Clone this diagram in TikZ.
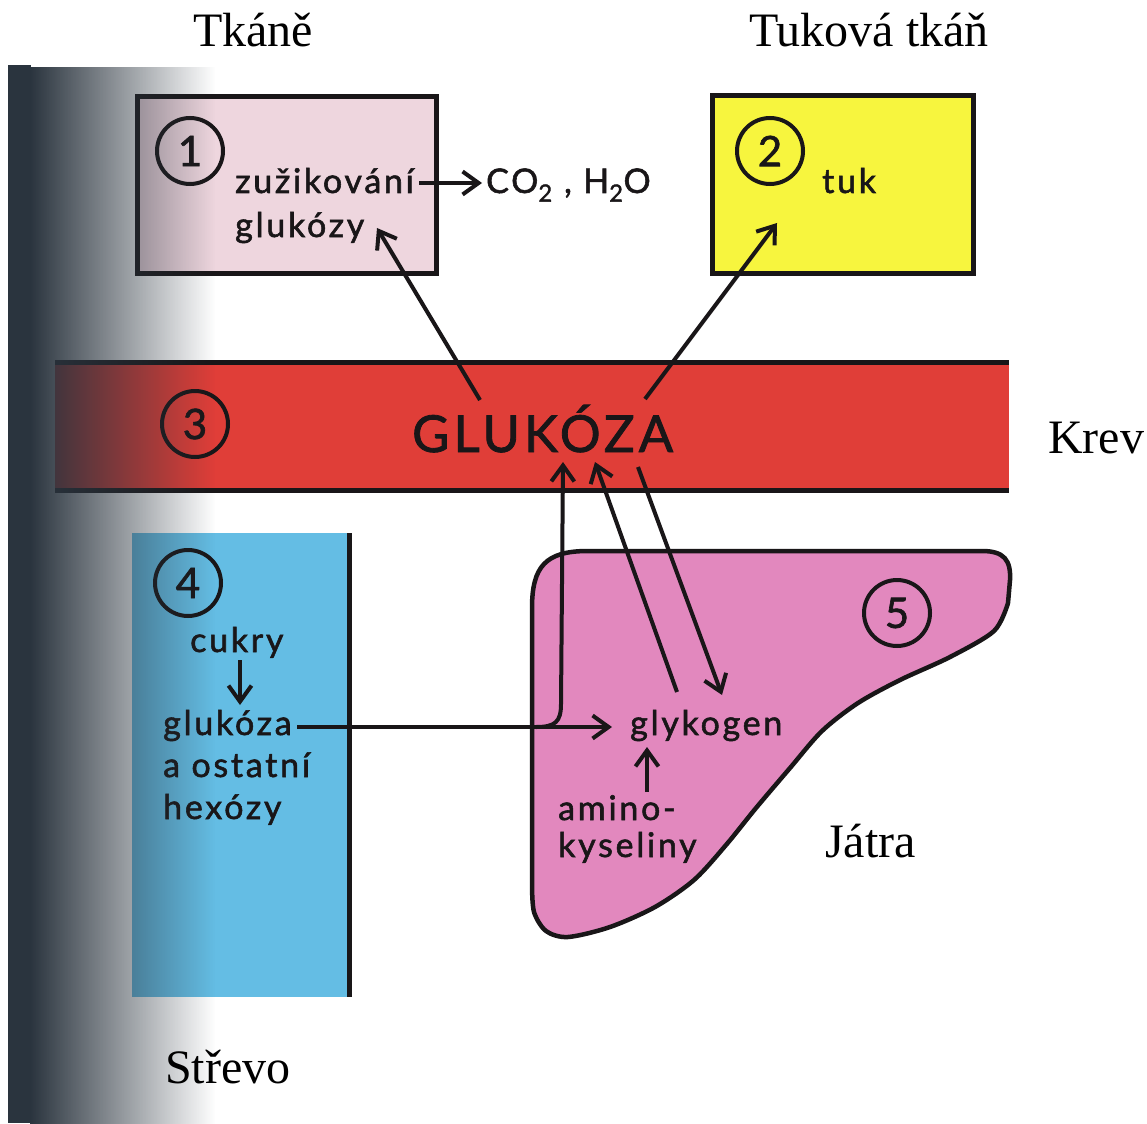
\documentclass[tikz,border=0pt]{standalone}
\usepackage{fontspec}
\setmainfont{Liberation Serif}
\newfontfamily\gs[LetterSpace=8, FakeBold=1.6]{Lato}
\newfontfamily\gsn[FakeBold=1.6]{Lato}
\usetikzlibrary{arrows.meta,fadings}
\definecolor{ink}{RGB}{25,22,24}
\definecolor{tissue}{RGB}{238,214,222}
\definecolor{fat}{RGB}{247,245,62}
\definecolor{blood}{RGB}{224,62,56}
\definecolor{gut}{RGB}{100,189,228}
\definecolor{liver}{RGB}{226,136,190}
\definecolor{shadowcol}{RGB}{42,52,62}
\tikzfading[name=shadowfade, left color=transparent!0, right color=transparent!100]
\tikzset{
  frame/.style={draw=ink, line width=5pt},
  num/.style={circle, draw=ink, line width=4pt, minimum size=66pt, inner sep=0pt, text=ink, font=\gsn\fontsize{42}{42}\selectfont},
  lab/.style={anchor=base west, inner sep=0pt, text=ink, font=\gs\fontsize{34}{40}\selectfont},
  big/.style={anchor=base west, inner sep=0pt, text=ink, font=\gs\fontsize{51}{52}\selectfont},
  title/.style={inner sep=0pt, text=black, font=\fontsize{48}{50}\selectfont},
  arr/.style={draw=ink, line width=4pt, -{Straight Barb[length=16pt,width=23pt]}},
  conn/.style={draw=ink, line width=4pt}
}
\begin{document}
\begin{tikzpicture}[x=1pt,y=-1pt]
\useasboundingbox (0,0) rectangle (1147,1123);
\fill[white] (0,0) rectangle (1147,1123);

% box 1 - tissues
\fill[tissue] (137,97) rectangle (436,273);
\draw[frame] (137,97) rectangle (436,273);
\node[num] (c1) at (190,151) {1};
\node[lab] (t1a) at (235,193) {zužikování};
\node[lab] (t1b) at (235,237) {glukózy};
\node[lab] (co) at (486,193) {CO\textsubscript{2} , H\textsubscript{2}O};

% box 2 - fat
\fill[fat] (712,96) rectangle (973,273);
\draw[frame] (712,96) rectangle (973,273);
\node[num] (c2) at (770,151) {2};
\node[lab] (tuk) at (822,193) {tuk};

% blood band
\fill[blood] (55,362) rectangle (1009,490);
\draw[frame] (55,362) -- (1009,362);
\draw[frame] (55,490) -- (1009,490);
\node[num] (c3) at (195,424) {3};
\node[big] (glu) at (412,452) {GLUKÓZA};

% intestine
\fill[gut] (132,533) rectangle (349,997);
\draw[frame] (349,533) -- (349,997);
\node[num] (c4) at (188,583) {4};
\node[lab] (cuk) at (190,652) {cukry};
\node[lab] (s2) at (163,735) {glukóza};
\node[lab] (s3) at (163,777) {a ostatní};
\node[lab] (s4) at (163,819) {hexózy};

% liver
\path[draw=ink, fill=liver, line width=4.5pt, line join=round]
  (532,880) -- (532,608) .. controls (532,566) and (546,551) .. (588,551)
  -- (982,551) .. controls (1004,551) and (1011,560) .. (1010,580) -- (1008,603)
  -- plot[smooth] coordinates {(1008,603) (994,631) (950,657) (900,680) (858,703)
     (822,731) (790,768) (756,808) (726,845) (694,880) (655,907) (610,927)
     (568,937) (546,931) (534,912) (532,885)} -- cycle;
\node[num] (c5) at (897,613) {5};
\node[lab] (gly) at (630,735) {glykogen};
\node[lab] (am1) at (558,820) {amino-};
\node[lab] (am2) at (558,857) {kyseliny};

% connectors
\coordinate (a1s) at (419,183);
\coordinate (a1e) at (482,183);
\draw[arr] (a1s) -- (a1e);

\coordinate (g1) at (480,400);
\coordinate (b1) at (377,228);
\draw[arr] (g1) -- (b1);

\coordinate (g2) at (645,399);
\coordinate (b2) at (777,223);
\draw[arr] (g2) -- (b2);

\coordinate (h0) at (297,727);
\coordinate (h1) at (612,727);
\draw[arr] (h0) -- (h1);

\coordinate (br0) at (536,727);
\coordinate (br1) at (561,704);
\coordinate (br2) at (563,462);
\draw[arr] (br0) .. controls (555,727) and (561,722) .. (br1) -- (br2);

\coordinate (l1) at (677,692);
\coordinate (u1) at (595,462);
\draw[arr] (l1) -- (u1);

\coordinate (u2) at (638,467);
\coordinate (l2) at (722,695);
\draw[arr] (u2) -- (l2);

\coordinate (ca) at (240,660);
\coordinate (cb) at (240,705);
\draw[arr] (ca) -- (cb);

\coordinate (aa) at (647,792);
\coordinate (ab) at (647,747);
\draw[arr] (aa) -- (ab);

% scan shadow on the left
\fill[shadowcol] (8,65) rectangle (31,1123);
\fill[shadowcol, path fading=shadowfade] (30,65) rectangle (215,1123);

% titles
\node[title, anchor=base] (tk) at (253,47) {Tkáně};
\node[title, anchor=base] (tt) at (869,47) {Tuková tkáň};
\node[title, anchor=base west] (kr) at (1048,453) {Krev};
\node[title, anchor=base west] (ja) at (825,857) {Játra};
\node[title, anchor=base west] (st) at (165,1083) {Střevo};
\end{tikzpicture}
\end{document}
